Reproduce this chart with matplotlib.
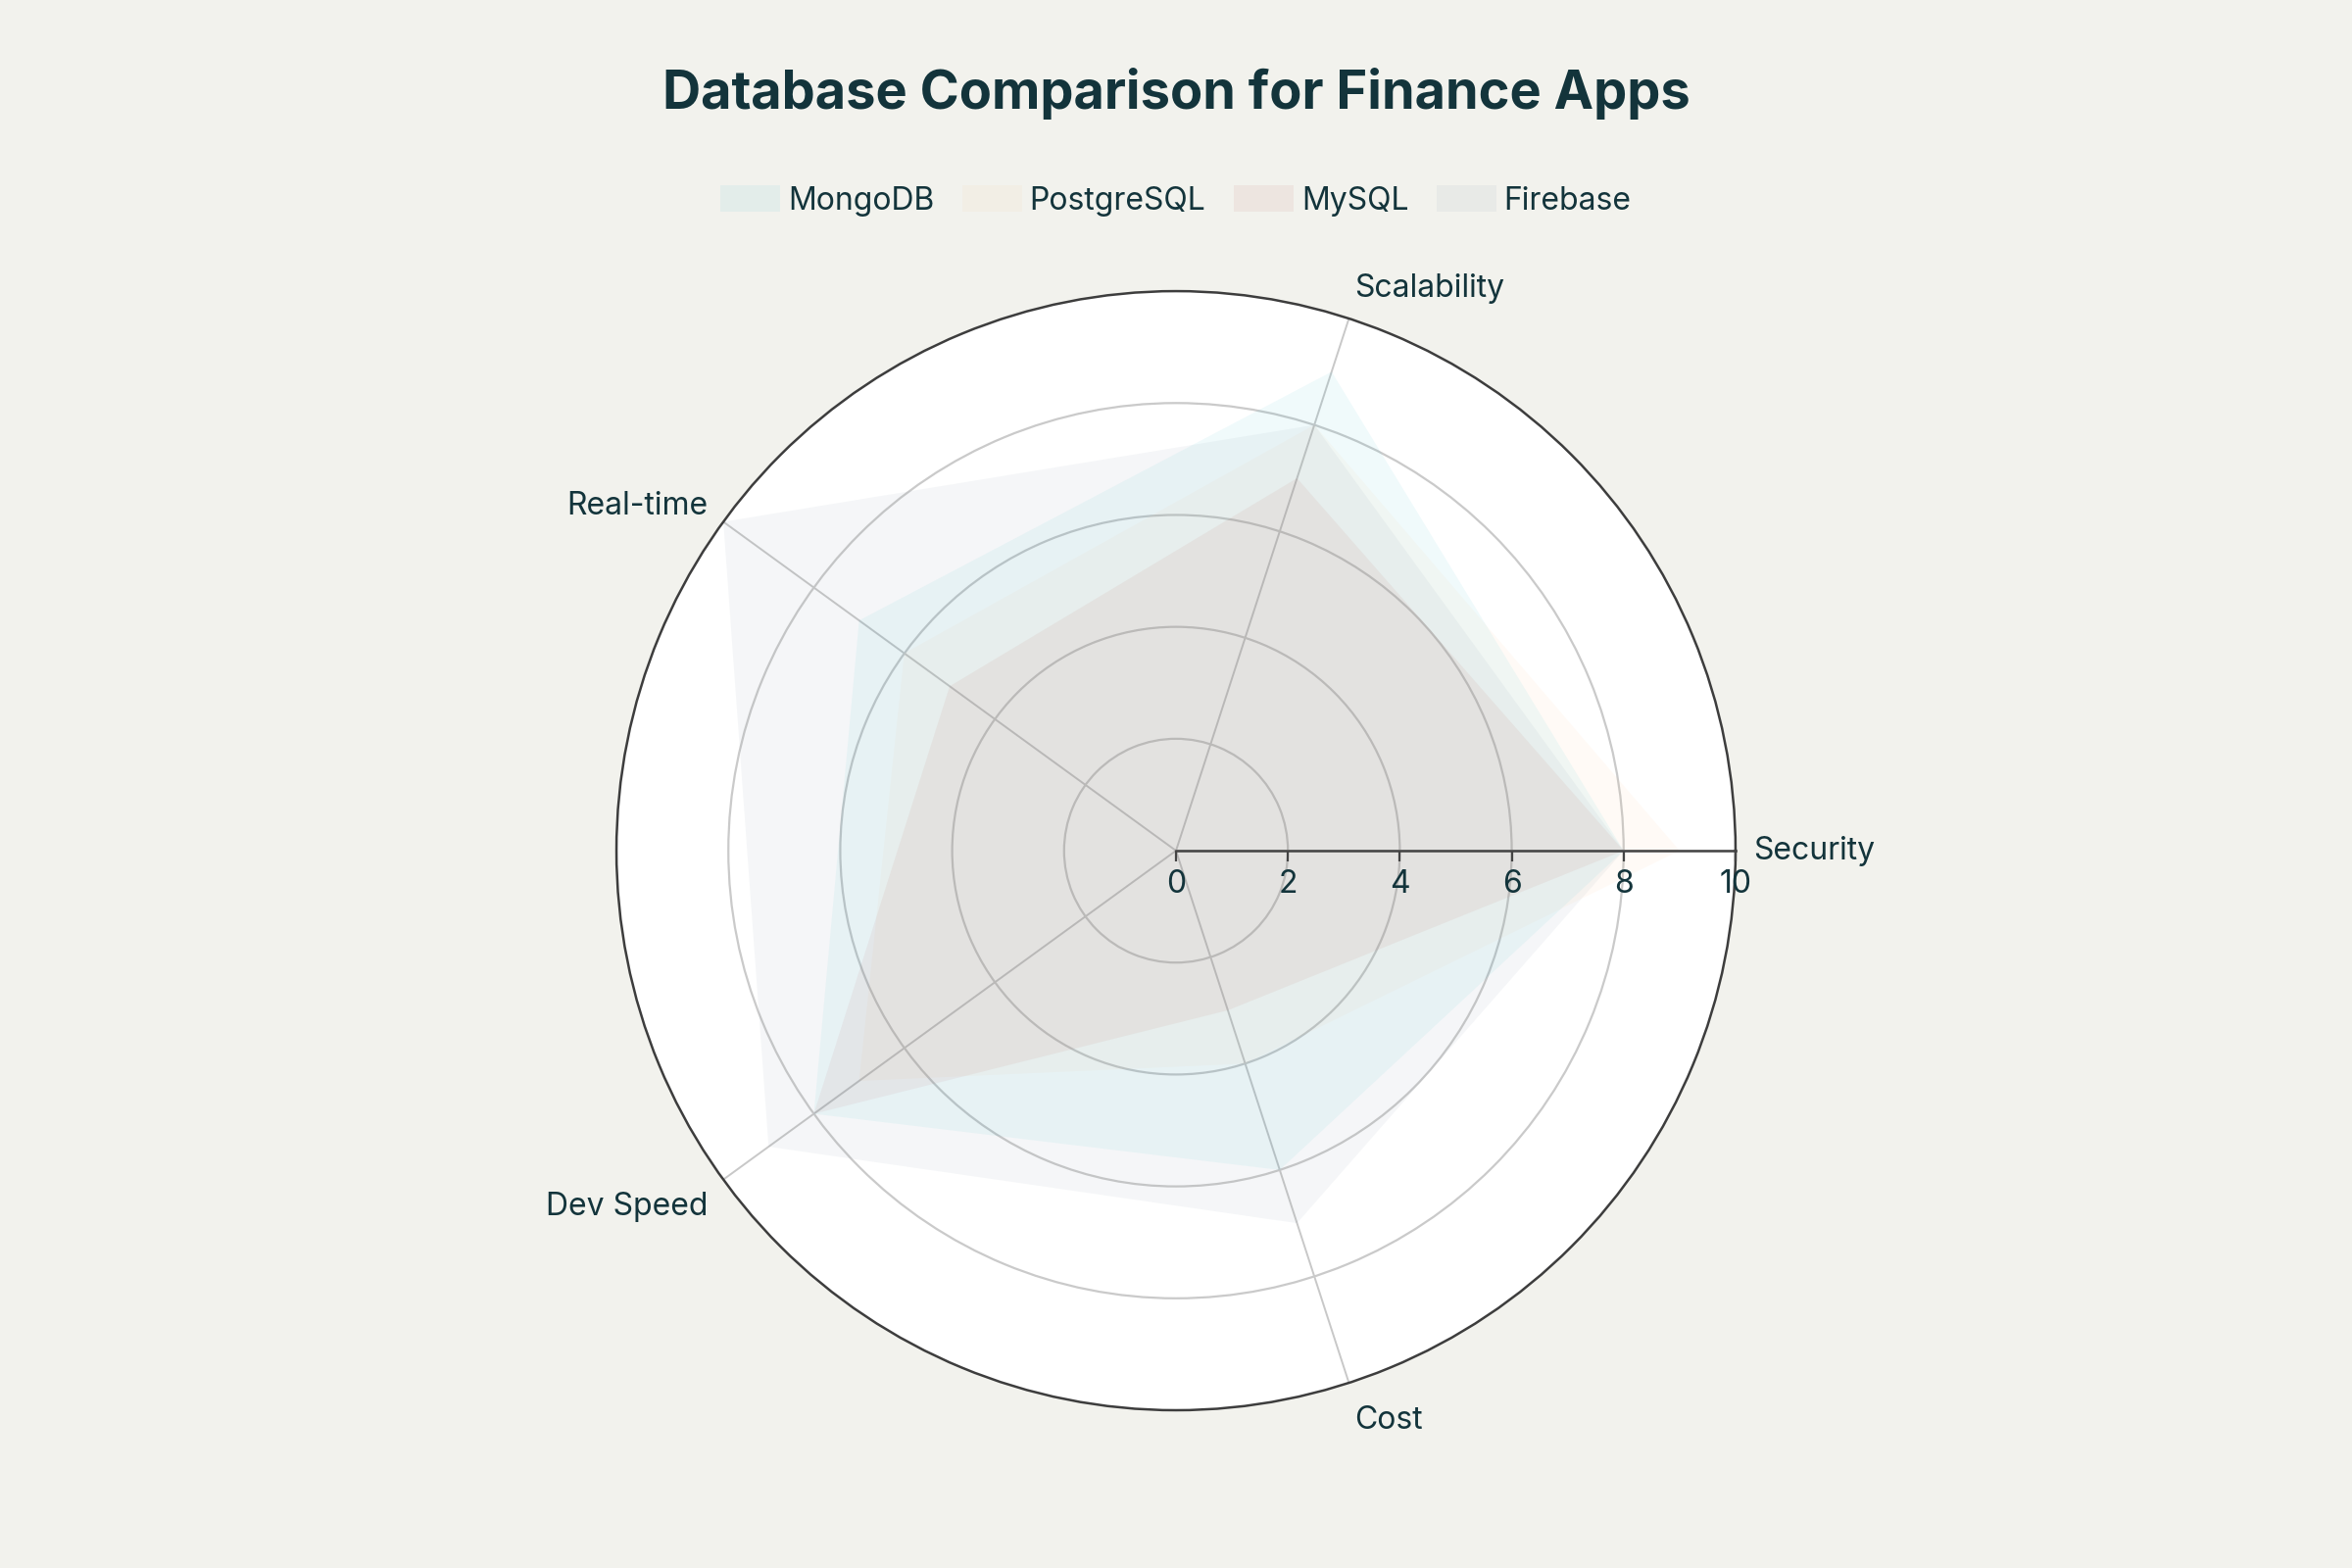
import numpy as np
import matplotlib.pyplot as plt
from matplotlib.patches import Patch

# data
categories = ['Security', 'Scalability', 'Real-time', 'Dev Speed', 'Cost']
databases = ['MongoDB', 'PostgreSQL', 'MySQL', 'Firebase']
mongodb = [8, 9, 7, 8, 6]
postgresql = [9, 8, 6, 7, 4]
mysql = [8, 7, 5, 8, 3]
firebase = [8, 8, 10, 9, 7]
radial_ticks = [0, 2, 4, 6, 8, 10]

colors = ['#1FB8CD', '#FFC185', '#B4413C', '#70849A']
fill_alpha = 0.065
text_color = '#13343B'
bg = '#F2F2ED'

plt.rcParams['font.family'] = ['Inter', 'DejaVu Sans']

fig = plt.figure(figsize=(12, 8), dpi=200, facecolor=bg)
ax = fig.add_axes([0.2621, 0.1006, 0.4758, 0.71375], projection='polar')
ax.set_facecolor('white')

angles_deg = np.arange(len(categories)) * 360 / len(categories)
theta = np.deg2rad(angles_deg)

for name, vals, col in zip(databases, [mongodb, postgresql, mysql, firebase], colors):
    t = np.append(theta, theta[0])
    r = np.append(vals, vals[0])
    ax.fill(t, r, color=col, alpha=fill_alpha, lw=0, zorder=2)

ax.set_ylim(0, 10)
ax.set_rgrids([2, 4, 6, 8], labels=[''] * 4)
ax.set_thetagrids(angles_deg, labels=[''] * len(categories))
ax.yaxis.grid(True, color='#CACACA', lw=0.8)
ax.xaxis.grid(True, color='#C8C8C8', lw=0.7)
ax.spines['polar'].set_color('#3D3D3D')
ax.spines['polar'].set_linewidth(0.9)
ax.tick_params(axis='x', direction='out', length=4, width=0.7, color='#555555', pad=0)
ax.tick_params(axis='y', length=0)

# radial axis along 0 degrees
ax.plot([0, 0], [0, 10], color='#444444', lw=0.9, zorder=5, clip_on=False)
ax.plot(np.zeros(len(radial_ticks)), radial_ticks, linestyle='none', marker=3,
        markersize=4, mec='#444444', mew=0.8, zorder=5, clip_on=False)
for rv in radial_ticks:
    ax.annotate(str(rv), (0, rv), xytext=(0, -7), textcoords='offset points',
                ha='center', va='top', fontsize=11.5, color=text_color,
                annotation_clip=False)

# angular labels, offsets in points from the outer circle
label_offsets = {'Security': (6.5, 0), 'Scalability': (2.2, 11),
                 'Real-time': (-5.5, 5.8), 'Dev Speed': (-5.5, -9.9),
                 'Cost': (2.2, -14)}
for a, lbl in zip(angles_deg, categories):
    c = np.cos(np.deg2rad(a))
    ha = 'left' if c > 0 else 'right'
    ax.annotate(lbl, (np.deg2rad(a), 10), xytext=label_offsets[lbl],
                textcoords='offset points', ha=ha, va='center', fontsize=11.5,
                color=text_color, annotation_clip=False)

fig.text(0.5, 1 - 96 / 1600, 'Database Comparison for Finance Apps', ha='center',
         va='center', fontsize=19.5, fontweight='bold', color=text_color)

handles = [Patch(facecolor=c, alpha=0.07, edgecolor='none') for c in colors]
fig.legend(handles, databases, loc='center', bbox_to_anchor=(0.5, 1 - 205 / 1600),
           ncol=4, frameon=False, fontsize=11.5, handlelength=1.9, handleheight=0.9,
           handletextpad=0.25, columnspacing=0.9, labelcolor=text_color)

fig.savefig('out.png', dpi=200, facecolor=bg)
